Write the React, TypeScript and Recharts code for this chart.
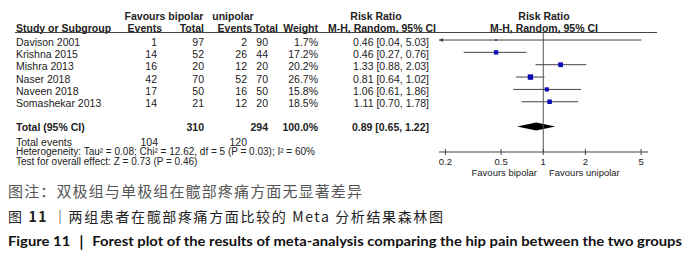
import { ComposedChart, Scatter, XAxis, YAxis, ReferenceLine, ReferenceArea } from 'recharts';

const studies = ['Davison 2001', 'Krishna 2015', 'Mishra 2013', 'Naser 2018', 'Naveen 2018', 'Somashekar 2013'];
const bipolarEvents = [1, 14, 16, 42, 17, 14];
const bipolarTotal = [97, 52, 20, 70, 50, 21];
const unipolarEvents = [2, 26, 12, 52, 16, 12];
const unipolarTotal = [90, 44, 20, 70, 50, 20];
const weights = [1.7, 17.2, 20.2, 26.7, 15.8, 18.5];
const riskRatio = [0.46, 0.46, 1.33, 0.81, 1.06, 1.11];
const ciLow = [0.04, 0.27, 0.88, 0.64, 0.61, 0.7];
const ciHigh = [5.03, 0.76, 2.03, 1.02, 1.86, 1.78];

// pooled estimate: RR, lower, upper
const pooled = [0.89, 0.65, 1.22];
const pooledTotals = [310, 294];
const pooledEvents = [104, 120];
const heterogeneity = 'Heterogeneity: Tau² = 0.08; Chi² = 12.62, df = 5 (P = 0.03); I² = 60%';
const overallTest = 'Test for overall effect: Z = 0.73 (P = 0.46)';

const xTicks = [0.2, 0.5, 1, 2, 5];
const xDomain = [0.18, 5.6];

const FONT = '"Liberation Sans", Arial, sans-serif';
const CJK = '"Noto Sans CJK SC", sans-serif';
const TEXT = '#222';
const LINE = '#444';

const studyRows = studies.map((name, i) => ({
  name,
  x: riskRatio[i],
  y: i,
  be: bipolarEvents[i],
  bt: bipolarTotal[i],
  ue: unipolarEvents[i],
  ut: unipolarTotal[i],
  w: weights[i],
  lo: ciLow[i],
  hi: ciHigh[i],
}));
const pooledIndex = studies.length + 1;
const pooledRow = [{ x: pooled[0], y: pooledIndex }];

const f2 = (v: number) => v.toFixed(2);
const clampX = (v: number) => Math.min(Math.max(v, xDomain[0]), xDomain[1]);

const StudyRow = (props: any) => {
  const { cy, payload } = props;
  const y = cy + 5.5;
  return (
    <g fontFamily={FONT} fontSize={10.5} fill={TEXT}>
      <text x={16} y={y}>{payload.name}</text>
      <text x={157} y={y} textAnchor="end">{payload.be}</text>
      <text x={204} y={y} textAnchor="end">{payload.bt}</text>
      <text x={247} y={y} textAnchor="end">{payload.ue}</text>
      <text x={268} y={y} textAnchor="end">{payload.ut}</text>
      <text x={318} y={y} textAnchor="end">{payload.w.toFixed(1)}%</text>
      <text x={429} y={y} textAnchor="end">
        {f2(payload.x)} [{f2(payload.lo)}, {f2(payload.hi)}]
      </text>
    </g>
  );
};

const PooledRow = (props: any) => {
  const { cy } = props;
  return (
    <g fontFamily={FONT} fill={TEXT}>
      <g fontSize={10.5} fontWeight="bold">
        <text x={16} y={cy + 5}>Total (95% CI)</text>
        <text x={204} y={cy + 5} textAnchor="end">{pooledTotals[0]}</text>
        <text x={268} y={cy + 5} textAnchor="end">{pooledTotals[1]}</text>
        <text x={318} y={cy + 5} textAnchor="end">100.0%</text>
        <text x={429} y={cy + 5} textAnchor="end">
          {f2(pooled[0])} [{f2(pooled[1])}, {f2(pooled[2])}]
        </text>
      </g>
      <g fontSize={10.5}>
        <text x={16} y={cy + 19.5}>Total events</text>
        <text x={158} y={cy + 19.5} textAnchor="end">{pooledEvents[0]}</text>
        <text x={247} y={cy + 19.5} textAnchor="end">{pooledEvents[1]}</text>
      </g>
      <g fontSize={10}>
        <text x={16} y={cy + 29}>{heterogeneity}</text>
        <text x={16} y={cy + 39}>{overallTest}</text>
      </g>
    </g>
  );
};

const Square = (props: any) => {
  const { cx, cy, payload } = props;
  const s = Math.max(Math.sqrt(payload.w) * 1.05, 1.6);
  return <rect x={cx - s / 2} y={cy - s / 2} width={s} height={s} fill="#0a0ab4" />;
};

const CiLine = (props: any) => {
  const { x1, y1, x2, y2, arrowLeft } = props;
  return (
    <g>
      <line x1={x1} y1={y1} x2={x2} y2={y2} stroke={LINE} strokeWidth={1} />
      {arrowLeft && <polygon points={`${x1},${y1} ${x1 + 4},${y1 - 2} ${x1 + 4},${y1 + 2}`} fill={LINE} />}
    </g>
  );
};

const Diamond = (props: any) => {
  const { x, y, width, height } = props;
  const frac = (Math.log(pooled[0]) - Math.log(pooled[1])) / (Math.log(pooled[2]) - Math.log(pooled[1]));
  const cx = x + width * frac;
  const my = y + height / 2;
  return <polygon points={`${x},${my} ${cx},${y} ${x + width},${my} ${cx},${y + height}`} fill="#000" />;
};

const ForestTick = (props: any) => {
  const { x, y, payload } = props;
  return (
    <g>
      <line x1={x} x2={x} y1={y - 3} y2={y + 3} stroke={LINE} />
      <text x={x} y={y + 13} textAnchor="middle" fontFamily={FONT} fontSize={9.5} fill={TEXT}>
        {payload.value}
      </text>
    </g>
  );
};

export default function App() {
  return (
    <div style={{ position: 'absolute', left: 0, top: 0, width: 700, height: 260, background: '#fff' }}>
      <ComposedChart width={700} height={260} margin={{ top: 32, right: 52, bottom: 88, left: 439 }}>
        <XAxis
          type="number"
          dataKey="x"
          scale="log"
          domain={xDomain}
          ticks={xTicks}
          interval={0}
          height={20}
          tickSize={0}
          tickMargin={0}
          tickLine={false}
          tick={<ForestTick />}
          axisLine={{ stroke: LINE }}
        />
        <YAxis type="number" dataKey="y" domain={[-0.65, 9.07]} reversed hide />
        <ReferenceLine x={1} stroke="#555" ifOverflow="visible" />
        {studyRows.map((r) => (
          <ReferenceLine
            key={r.name}
            ifOverflow="visible"
            segment={[
              { x: clampX(r.lo), y: r.y },
              { x: clampX(r.hi), y: r.y },
            ]}
            shape={(p: any) => <CiLine {...p} arrowLeft={r.lo < xDomain[0]} />}
          />
        ))}
        <ReferenceArea
          x1={pooled[1]}
          x2={pooled[2]}
          y1={pooledIndex - 0.32}
          y2={pooledIndex + 0.32}
          ifOverflow="visible"
          shape={<Diamond />}
        />
        <Scatter data={studyRows} shape={StudyRow} isAnimationActive={false} />
        <Scatter data={studyRows} shape={Square} isAnimationActive={false} />
        <Scatter data={pooledRow} shape={PooledRow} isAnimationActive={false} />
      </ComposedChart>

      <svg width={700} height={260} style={{ position: 'absolute', left: 0, top: 0, pointerEvents: 'none' }}>
        <g fontFamily={FONT} fontSize={10.5} fontWeight="bold" fill={TEXT}>
          <text x={164} y={20} textAnchor="middle">Favours bipolar</text>
          <text x={233} y={20} textAnchor="middle">unipolar</text>
          <text x={376} y={20} textAnchor="middle">Risk Ratio</text>
          <text x={544} y={20} textAnchor="middle">Risk Ratio</text>
          <text x={16} y={32}>Study or Subgroup</text>
          <text x={162} y={32} textAnchor="end">Events</text>
          <text x={204} y={32} textAnchor="end">Total</text>
          <text x={252} y={32} textAnchor="end">Events</text>
          <text x={278} y={32} textAnchor="end">Total</text>
          <text x={318} y={32} textAnchor="end">Weight</text>
          <text x={382} y={32} textAnchor="middle">M-H, Random, 95% CI</text>
          <text x={544} y={32} textAnchor="middle">M-H, Random, 95% CI</text>
        </g>
        <line x1={15} x2={657} y1={32.5} y2={32.5} stroke={LINE} />
        <g fontFamily={FONT} fontSize={9.5} fill={TEXT}>
          <text x={537} y={176} textAnchor="end">Favours bipolar</text>
          <text x={549} y={176}>Favours unipolar</text>
        </g>
        <text
          x={8}
          y={197}
          fontFamily={CJK}
          fontSize={15}
          fill="#555"
          textLength={354}
          lengthAdjust="spacing"
        >
          图注：双极组与单极组在髋部疼痛方面无显著差异
        </text>
        <text x={8} y={222} fontFamily={CJK} fontSize={14} fill="#222" textLength={435} lengthAdjust="spacing">
          图 <tspan fontWeight="bold">11</tspan> ｜两组患者在髋部疼痛方面比较的 Meta 分析结果森林图
        </text>
        <text
          x={8}
          y={246}
          fontFamily="Lato, sans-serif"
          fontSize={14}
          fontWeight="bold"
          fill="#111"
          textLength={674}
          lengthAdjust="spacingAndGlyphs"
        >
          Figure 11 ｜ Forest plot of the results of meta-analysis comparing the hip pain between the two groups
        </text>
      </svg>
    </div>
  );
}
